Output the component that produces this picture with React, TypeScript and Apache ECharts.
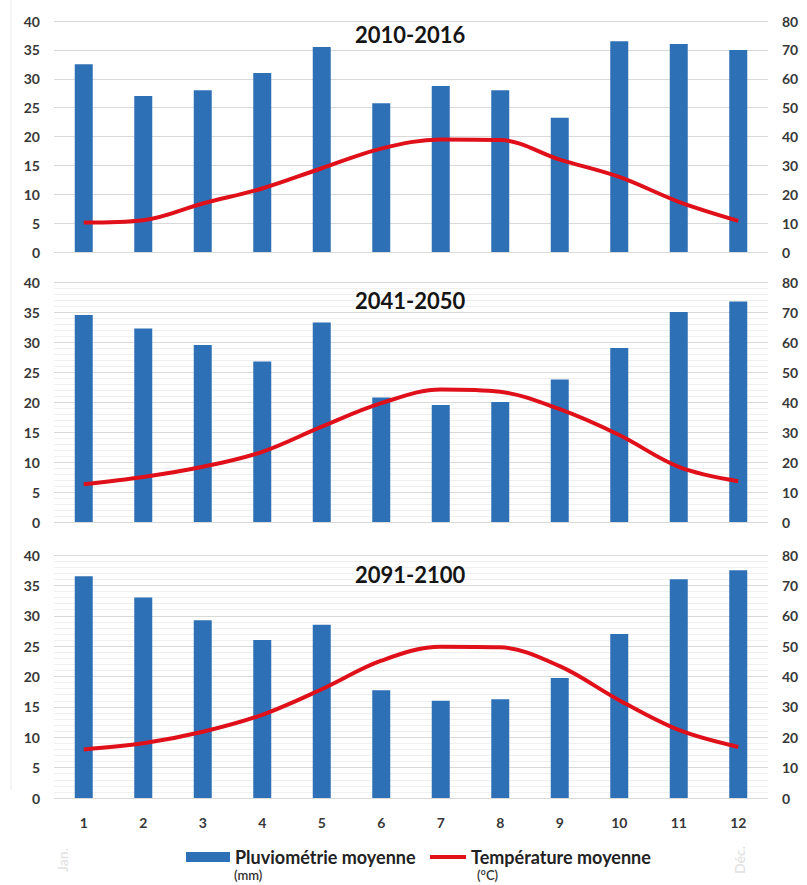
import React, { useEffect, useRef } from "react";
import * as echarts from "echarts";

const months = ["1", "2", "3", "4", "5", "6", "7", "8", "9", "10", "11", "12"];
const periods = ["2010-2016", "2041-2050", "2091-2100"];

// Precipitation (mm, right axis 0-80)
const rain2010 = [65, 54, 56, 62, 71, 51.5, 57.5, 56, 46.5, 73, 72, 70];
const rain2041 = [69, 64.5, 59, 53.5, 66.5, 41.5, 39, 40, 47.5, 58, 70, 73.5];
const rain2091 = [73, 66, 58.5, 52, 57, 35.5, 32, 32.5, 39.5, 54, 72, 75];

// Temperature (°C, left axis 0-40)
const temp2010 = [5.1, 5.5, 8.4, 11.0, 14.5, 17.9, 19.5, 19.4, 16.0, 13.0, 8.7, 5.4];
const temp2041 = [6.3, 7.5, 9.2, 11.7, 15.9, 19.8, 22.1, 21.7, 18.8, 14.5, 9.2, 6.8];
const temp2091 = [8.0, 9.0, 10.9, 13.7, 17.9, 22.6, 24.9, 24.8, 21.7, 16.1, 11.2, 8.4];

const leftTicks = [0, 40, 5];
const rightTicks = [0, 80, 10];

const rainName = "Pluviométrie moyenne";
const tempName = "Température moyenne";

export default function App() {
  const ref = useRef<HTMLDivElement>(null);

  useEffect(() => {
    if (!ref.current) return;
    const chart = echarts.init(ref.current, null, { renderer: "svg" });

    const rains = [rain2010, rain2041, rain2091];
    const temps = [temp2010, temp2041, temp2091];
    const grids = [
      { top: 21, height: 231 },
      { top: 282, height: 240 },
      { top: 555, height: 243 },
    ];
    const titleTops = [23, 289, 563];
    const font = "Lato, 'Open Sans', sans-serif";
    const labelColor = "#383838";

    const grid: any[] = [];
    const xAxis: any[] = [];
    const yAxis: any[] = [];
    const series: any[] = [];
    const title: any[] = [];

    grids.forEach((g, i) => {
      grid.push({ left: 54, right: 39, top: g.top, height: g.height });
      xAxis.push({
        type: "category",
        gridIndex: i,
        data: months,
        boundaryGap: true,
        axisLine: { show: false },
        axisTick: { show: false },
        axisLabel: {
          show: i === 2,
          margin: 17,
          color: labelColor,
          fontFamily: font,
          fontWeight: "bold",
          fontSize: 14,
        },
      });
      yAxis.push({
        type: "value",
        gridIndex: i,
        min: leftTicks[0],
        max: leftTicks[1],
        interval: leftTicks[2],
        position: "left",
        axisLine: { show: false },
        axisTick: { show: false },
        axisLabel: {
          margin: 14,
          color: labelColor,
          fontFamily: font,
          fontWeight: "bold",
          fontSize: 14,
        },
        splitLine: { show: true, lineStyle: { color: "#d9d9d9", width: 1 } },
        minorTick: { show: false, splitNumber: 5 },
        minorSplitLine: { show: i > 0, lineStyle: { color: "#efefef", width: 1 } },
      });
      yAxis.push({
        type: "value",
        gridIndex: i,
        min: rightTicks[0],
        max: rightTicks[1],
        interval: rightTicks[2],
        position: "right",
        axisLine: { show: false },
        axisTick: { show: false },
        splitLine: { show: false },
        axisLabel: {
          margin: 14,
          color: labelColor,
          fontFamily: font,
          fontWeight: "bold",
          fontSize: 14,
        },
      });
      series.push({
        name: rainName,
        type: "bar",
        xAxisIndex: i,
        yAxisIndex: i * 2 + 1,
        data: rains[i],
        barWidth: 18,
        itemStyle: { color: "#2e70b5" },
      });
      series.push({
        name: tempName,
        type: "line",
        xAxisIndex: i,
        yAxisIndex: i * 2,
        data: temps[i],
        smooth: 0.35,
        symbol: "none",
        lineStyle: { color: "#e0101a", width: 4 },
        itemStyle: { color: "#e0101a" },
        z: 5,
      });
      title.push({
        text: periods[i],
        left: 355,
        top: titleTops[i],
        padding: 0,
        textStyle: {
          fontFamily: font,
          fontWeight: "bold",
          fontSize: 22,
          color: "#151515",
        },
      });
    });

    const legendText = {
      fontFamily: font,
      fontWeight: "bold",
      fontSize: 18,
      color: "#222",
    };

    chart.setOption({
      animation: false,
      backgroundColor: "#ffffff",
      title,
      grid,
      xAxis,
      yAxis,
      series,
      legend: [
        {
          data: [{ name: rainName, icon: "rect" }],
          left: 186,
          top: 848,
          itemWidth: 44,
          itemHeight: 10,
          padding: 0,
          textStyle: legendText,
        },
        {
          data: [{ name: tempName, icon: "rect" }],
          left: 430,
          top: 848,
          itemWidth: 36,
          itemHeight: 4,
          padding: 0,
          textStyle: legendText,
        },
      ],
      graphic: [
        {
          type: "text",
          x: 234,
          y: 875,
          style: {
            text: "(mm)",
            font: `600 13px ${font}`,
            fill: "#333",
            verticalAlign: "middle",
          },
        },
        {
          type: "text",
          x: 477,
          y: 875,
          style: {
            text: "(°C)",
            font: `600 13px ${font}`,
            fill: "#333",
            verticalAlign: "middle",
          },
        },
        {
          type: "text",
          x: 62,
          y: 860,
          rotation: Math.PI / 2,
          style: {
            text: "Jan.",
            font: `600 14px ${font}`,
            fill: "#e2e2e2",
            align: "center",
            verticalAlign: "middle",
          },
        },
        {
          type: "text",
          x: 739,
          y: 860,
          rotation: Math.PI / 2,
          style: {
            text: "Déc.",
            font: `600 14px ${font}`,
            fill: "#e2e2e2",
            align: "center",
            verticalAlign: "middle",
          },
        },
        {
          type: "line",
          shape: { x1: 11, y1: 0, x2: 11, y2: 790 },
          style: { stroke: "#ececec", lineWidth: 1 },
        },
      ],
    });

    return () => chart.dispose();
  }, []);

  return (
    <div
      ref={ref}
      style={{ position: "fixed", left: 0, top: 0, width: 807, height: 885 }}
    />
  );
}
